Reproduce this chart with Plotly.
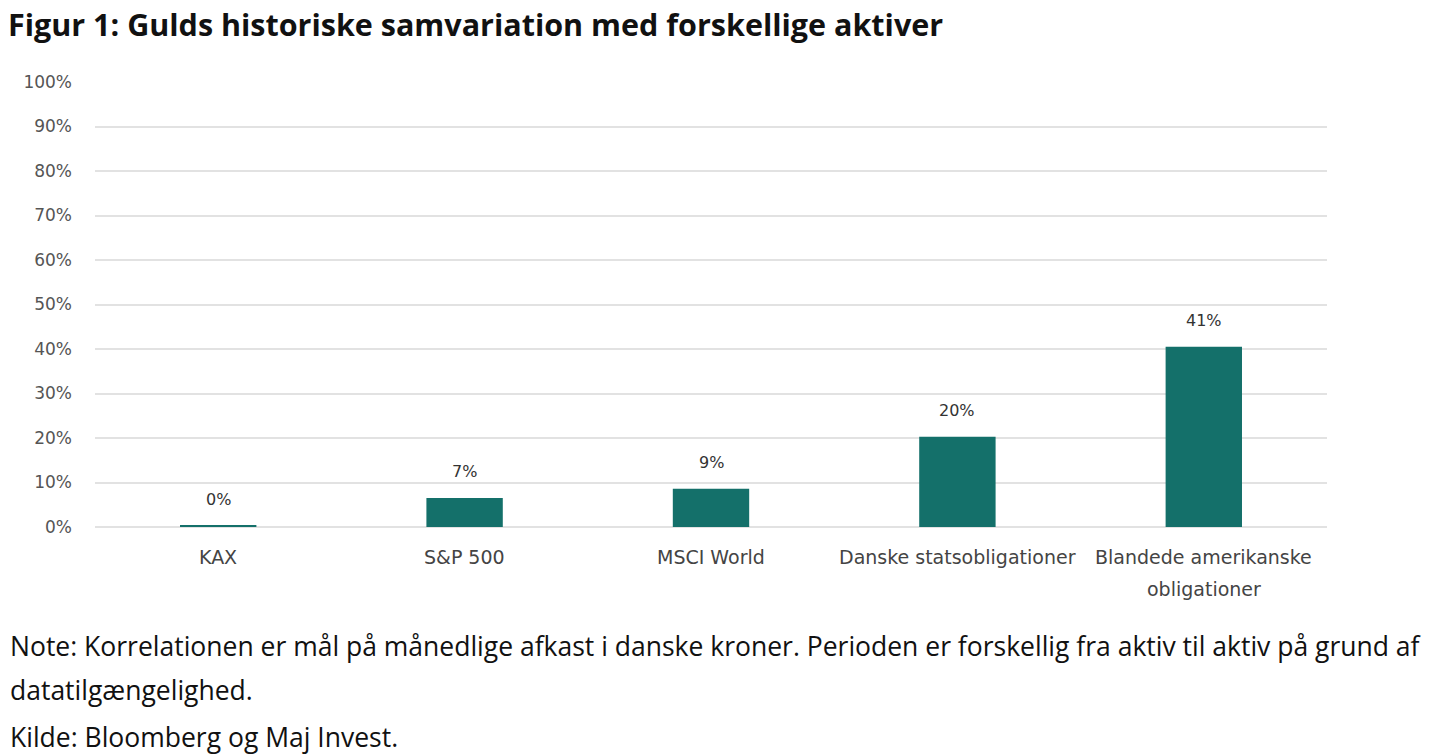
import plotly.graph_objects as go

categories = ["KAX", "S&P 500", "MSCI World", "Danske statsobligationer", "Blandede amerikanske\nobligationer"]
values = [0.3, 6.5, 8.6, 20.3, 40.5]
value_labels = ["0%", "7%", "9%", "20%", "41%"]
y_ticks = [0, 10, 20, 30, 40, 50, 60, 70, 80, 90, 100]
y_tick_labels = [f"{t}%" for t in y_ticks]

title_text = "Figur 1: Gulds historiske samvariation med forskellige aktiver"
note_lines = [
    "Note: Korrelationen er mål på månedlige afkast i danske kroner. Perioden er forskellig fra aktiv til aktiv på grund af",
    "datatilgængelighed.",
    "Kilde: Bloomberg og Maj Invest.",
]

W, H = 1440, 754
L, R, T, B = 95, 113, 82, 227
pw, ph = W - L - R, H - T - B

fig = go.Figure()
fig.add_trace(go.Bar(
    x=list(range(len(categories))), y=values,
    marker=dict(color="#14706a", line=dict(width=0)),
    width=0.31, hoverinfo="skip",
))

annotations = []
for i, (v, lab) in enumerate(zip(values, value_labels)):
    annotations.append(dict(x=i, y=v, xref="x", yref="y", text=lab, showarrow=False,
                            yanchor="bottom", yshift=15,
                            font=dict(family="DejaVu Sans", size=16, color="#333333")))
for i, c in enumerate(categories):
    for j, line in enumerate(c.split("\n")):
        annotations.append(dict(x=i, y=0, xref="x", yref="paper", text=line, showarrow=False,
                                yanchor="middle", yshift=-30 - 32 * j,
                                font=dict(family="DejaVu Sans", size=19, color="#444444")))
note_y = [646, 690, 737]
for line, yy in zip(note_lines, note_y):
    annotations.append(dict(x=(8 - L) / pw, y=(H - B - yy) / ph, xref="paper", yref="paper",
                            text=line, showarrow=False, xanchor="left", yanchor="middle",
                            font=dict(family="Open Sans", size=26.5, color="#111111")))

fig.update_layout(
    width=W, height=H,
    margin=dict(l=L, r=R, t=T, b=B, autoexpand=False),
    paper_bgcolor="white", plot_bgcolor="white",
    showlegend=False,
    title=dict(text=f"<b>{title_text}</b>", xref="container", yref="container",
               x=8 / W, xanchor="left", y=(H - 25) / H, yanchor="middle",
               font=dict(family="Open Sans", size=30.5, color="#111111")),
    xaxis=dict(range=[-0.5, len(categories) - 0.5], showticklabels=False, showgrid=False,
               zeroline=False, showline=False, ticks=""),
    yaxis=dict(range=[0, 100], tickvals=y_ticks, ticktext=y_tick_labels,
               showgrid=True, gridcolor="#e2e2e2", gridwidth=1.5,
               zeroline=True, zerolinecolor="#e2e2e2", zerolinewidth=1.5,
               showline=False, ticks="", ticklabelstandoff=22,
               tickfont=dict(family="DejaVu Sans", size=17, color="#555555")),
    annotations=annotations,
)

fig.write_html("out.html", config={"displayModeBar": False},
               post_script="document.body.style.margin='0';document.body.style.overflow='hidden';")
